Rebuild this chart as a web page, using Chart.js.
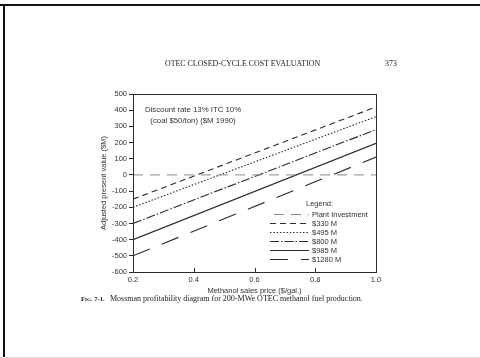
<!DOCTYPE html>
<html>
<head>
<meta charset="utf-8">
<script src="https://cdn.jsdelivr.net/npm/chart.js@4.4.1/dist/chart.umd.min.js"></script>
<style>
    body { margin: 0; background: #fff; }
    #page { position: relative; width: 480px; height: 358px; overflow: hidden; background: #fff; }
    #page canvas { position: absolute; left: 0; top: 0; }
    .frameTop { position: absolute; left: 0; top: 4px; width: 480px; height: 2px; background: #111; }
    .frameLeft { position: absolute; left: 3px; top: 4px; width: 2px; height: 354px; background: #111; }
    .frameBottom { position: absolute; left: 0; top: 357px; width: 480px; height: 1px; background: #ddd; }
    .runHead { position: absolute; top: 59px; font-family: "Liberation Serif", serif; font-size: 7.9px; color: #222; white-space: nowrap; }
    .caption { position: absolute; top: 294px; font-family: "Liberation Serif", serif; font-size: 8px; color: #222; white-space: nowrap; }
</style>
</head>
<body>
<div id="page">
    <canvas id="myChart" width="480" height="358"></canvas>
    <div class="frameTop"></div>
    <div class="frameLeft"></div>
    <div class="frameBottom"></div>
    <div class="runHead" style="left:165px;">OTEC CLOSED-CYCLE COST EVALUATION</div>
    <div class="runHead" style="left:385px;">373</div>
    <div class="caption" style="left:81px; font-size:6.6px; top:295px;"><b>F<span style="font-size:5px">IG</span>. 7-1.</b></div>
    <div class="caption" style="left:110px;">Mossman profitability diagram for 200-MWe OTEC methanol fuel production.</div>
</div>
<script>
// methanol sales price ($/gal.) at the two ends of each line
const salesPrice = [0.2, 1.0];

// adjusted present value ($M) for each plant investment
const plantInvestment = [0, 0];
const invest330 = [-150, 420];
const invest495 = [-200, 360];
const invest800 = [-300, 280];
const invest985 = [-400, 195];
const invest1280 = [-500, 110];

const seriesLabels = ['Plant Investment', '$330 M', '$495 M', '$800 M', '$985 M', '$1280 M'];
const noteLines = ['Discount rate 13% ITC 10%', '(coal $50/ton) ($M 1990)'];

const yTicks = { min: -600, max: 500, step: 100 };
const xTicks = { min: 0.2, max: 1.0, step: 0.2 };

const ink = '#2b2b2b';
const sansFont = '"Liberation Sans", Arial, sans-serif';

function toPoints(values) {
    return salesPrice.map((x, i) => ({ x: x, y: values[i] }));
}

function makeDataset(label, values, dash, color, width) {
    return {
        label: label,
        data: toPoints(values),
        borderColor: color,
        borderWidth: width,
        borderDash: dash,
        pointRadius: 0,
        fill: false,
        tension: 0
    };
}

// frame, inward x ticks, the note text and the legend block
const paperPlugin = {
    id: 'paper',
    afterDraw(chart) {
        const ctx = chart.ctx;
        const area = chart.chartArea;
        const xScale = chart.scales.x;

        ctx.save();
        ctx.strokeStyle = ink;
        ctx.lineWidth = 1;
        ctx.strokeRect(area.left + 0.5, area.top + 0.5, area.right - area.left, area.bottom - area.top);

        // x ticks point into the plot
        xScale.ticks.forEach(t => {
            const px = Math.round(xScale.getPixelForValue(t.value)) + 0.5;
            ctx.beginPath();
            ctx.moveTo(px, area.bottom);
            ctx.lineTo(px, area.bottom - 4);
            ctx.stroke();
        });

        ctx.fillStyle = '#333';
        ctx.font = '7.8px ' + sansFont;
        ctx.textAlign = 'center';
        ctx.textBaseline = 'middle';
        ctx.fillText(noteLines[0], 193, 110);
        ctx.fillText(noteLines[1], 193, 121);

        // legend
        ctx.textAlign = 'left';
        ctx.font = '7.5px ' + sansFont;
        ctx.fillText('Legend:', 306, 204);
        chart.data.datasets.forEach((ds, i) => {
            const rowY = Math.round(214 + i * 9) + 0.5;
            ctx.save();
            ctx.strokeStyle = ds.borderColor;
            ctx.lineWidth = ds.borderWidth;
            ctx.setLineDash(ds.borderDash);
            ctx.beginPath();
            ctx.moveTo(i === 0 ? 274 : 270, rowY);
            ctx.lineTo(309, rowY);
            ctx.stroke();
            ctx.restore();
            ctx.fillText(ds.label, 312, rowY);
        });
        ctx.restore();
    }
};

const ctx = document.getElementById('myChart').getContext('2d');

new Chart(ctx, {
    type: 'line',
    data: {
        datasets: [
            makeDataset(seriesLabels[0], plantInvestment, [10, 7], '#8a8a8a', 1),
            makeDataset(seriesLabels[1], invest330, [6, 4], ink, 1.1),
            makeDataset(seriesLabels[2], invest495, [1.5, 1.8], ink, 1.1),
            makeDataset(seriesLabels[3], invest800, [9, 2, 1.5, 2], ink, 1.1),
            makeDataset(seriesLabels[4], invest985, [], ink, 1.2),
            makeDataset(seriesLabels[5], invest1280, [18, 13], ink, 1.1)
        ]
    },
    options: {
        responsive: false,
        animation: false,
        layout: {
            padding: { left: 99, right: 104, top: 94, bottom: 63 }
        },
        plugins: {
            legend: { display: false },
            tooltip: { enabled: false }
        },
        scales: {
            x: {
                type: 'linear',
                min: xTicks.min,
                max: xTicks.max,
                afterFit: function(scale) { scale.height = 23; },
                afterBuildTicks: function(scale) {
                    const list = [];
                    for (let v = xTicks.min; v <= xTicks.max + 1e-9; v += xTicks.step) {
                        list.push({ value: Math.round(v * 10) / 10 });
                    }
                    scale.ticks = list;
                },
                ticks: {
                    color: '#333',
                    font: { family: sansFont, size: 7.5 },
                    padding: 3,
                    maxRotation: 0,
                    callback: v => v.toFixed(1)
                },
                grid: { display: false, drawTicks: false },
                border: { display: true, color: ink, width: 1 },
                title: {
                    display: true,
                    text: 'Methanol sales price ($/gal.)',
                    color: '#333',
                    font: { family: sansFont, size: 7.5 },
                    padding: 0
                }
            },
            y: {
                type: 'linear',
                min: yTicks.min,
                max: yTicks.max,
                afterFit: function(scale) { scale.width = 34; },
                ticks: {
                    stepSize: yTicks.step,
                    color: '#333',
                    font: { family: sansFont, size: 7.5 },
                    padding: 2
                },
                grid: { drawOnChartArea: false, drawTicks: true, tickLength: 4, color: ink },
                border: { display: true, color: ink, width: 1 },
                title: {
                    display: true,
                    text: 'Adjusted present value ($M)',
                    color: '#333',
                    font: { family: sansFont, size: 7.5 },
                    padding: 0
                }
            }
        }
    },
    plugins: [paperPlugin]
});
</script>
</body>
</html>
